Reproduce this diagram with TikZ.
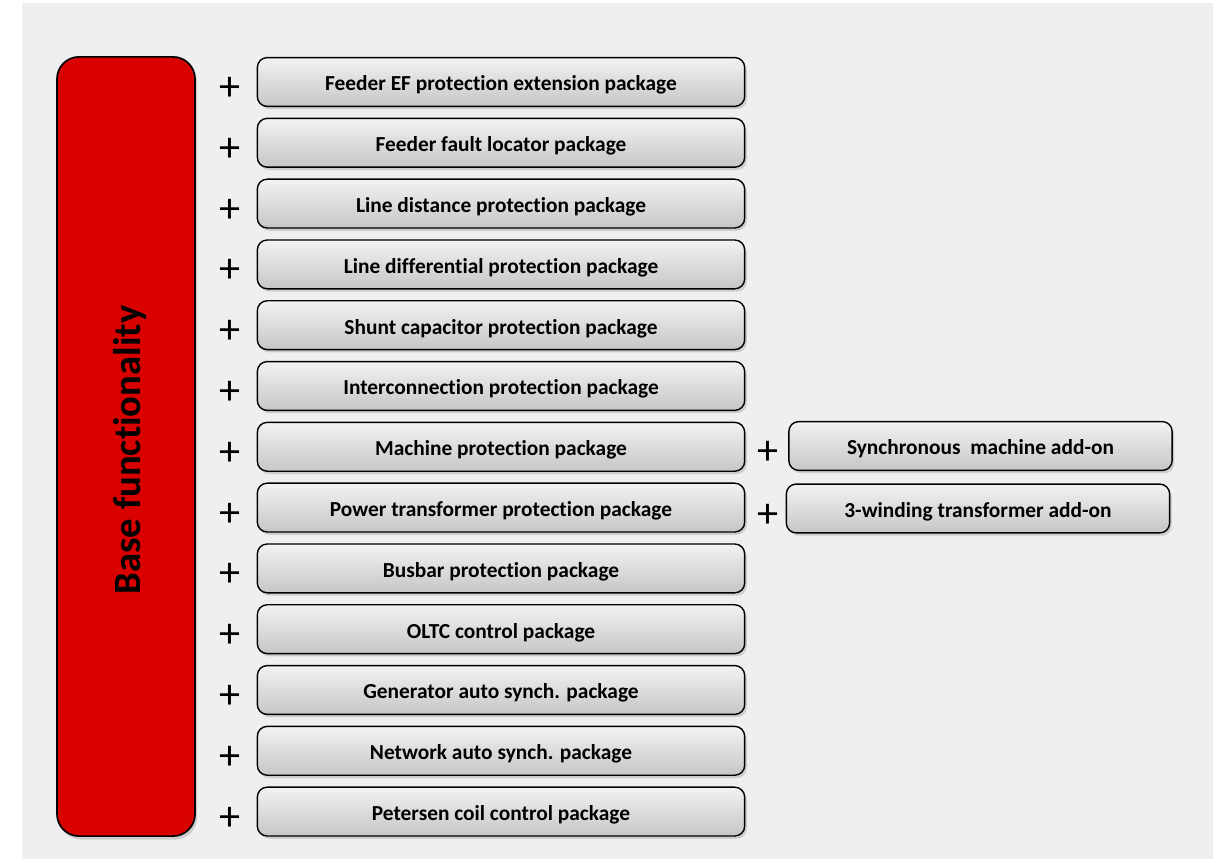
\documentclass[tikz,border=0pt]{standalone}
\usepackage{fontspec}
\setmainfont{Carlito}[Ligatures=NoCommon]
\usepackage{tikz}
\usetikzlibrary{positioning,shadows}
\definecolor{baseRed}{HTML}{D90000}
\definecolor{panelGray}{HTML}{EFEFEF}
\definecolor{pkgTop}{HTML}{F2F2F2}
\definecolor{pkgBottom}{HTML}{C6C6C6}

\tikzset{
    pkg/.style={draw=black, line width=1pt, rounded corners=7pt,
        top color=pkgTop, bottom color=pkgBottom,
        minimum width=12.18cm, minimum height=1.22cm, inner sep=0pt,
        text height=13pt, text depth=0.4pt,
        font=\bfseries\fontsize{15.2}{17}\selectfont,
        drop shadow={shadow xshift=1.5pt, shadow yshift=-2pt, opacity=0.3}},
    addon/.style={pkg, minimum width=9.58cm},
    plus/.style={inner sep=0pt, font=\fontsize{30}{30}\selectfont}
}

\begin{document}
\begin{tikzpicture}[x=0.025cm, y=-0.025cm]
    \useasboundingbox (0,0) rectangle (1213,859);
    \fill[white] (0,0) rectangle (1213,859);
    \fill[panelGray] (22,3) rectangle (1213,859);
    % base block
    \node[draw=black, line width=1.2pt, fill=baseRed, rounded corners=0.55cm,
          minimum width=3.45cm, minimum height=19.475cm,
          drop shadow={shadow xshift=1.5pt, shadow yshift=-2.5pt, opacity=0.3}] (base) at (126,446.5) {};
    \node[rotate=90, font=\bfseries\fontsize{27.5}{30}\selectfont] (basetext) at (130,450) {Base functionality};
    % packages
    \foreach \a [count=\i] in {Feeder EF protection extension package, Feeder fault locator package,
        Line distance protection package, Line differential protection package,
        Shunt capacitor protection package, Interconnection protection package,
        Machine protection package, Power transformer protection package,
        Busbar protection package, OLTC control package, Generator auto synch. package,
        Network auto synch. package, Petersen coil control package} {
        \node[pkg] (pkg\i) at (501,{82+60.8*(\i-1)}) {\a};
        \node[plus] (plus\i) at (230,{89+60.8*(\i-1)}) {+};
    }
    % add-ons
    \node[addon] (sync) at (980.5,446) {Synchronous\ \ machine add-on};
    \node[plus] (plusSync) at (768,453) {+};
    \node[addon] (wind) at (978,508.5) {3-winding transformer add-on};
    \node[plus] (plusWind) at (768,516) {+};
\end{tikzpicture}
\end{document}
